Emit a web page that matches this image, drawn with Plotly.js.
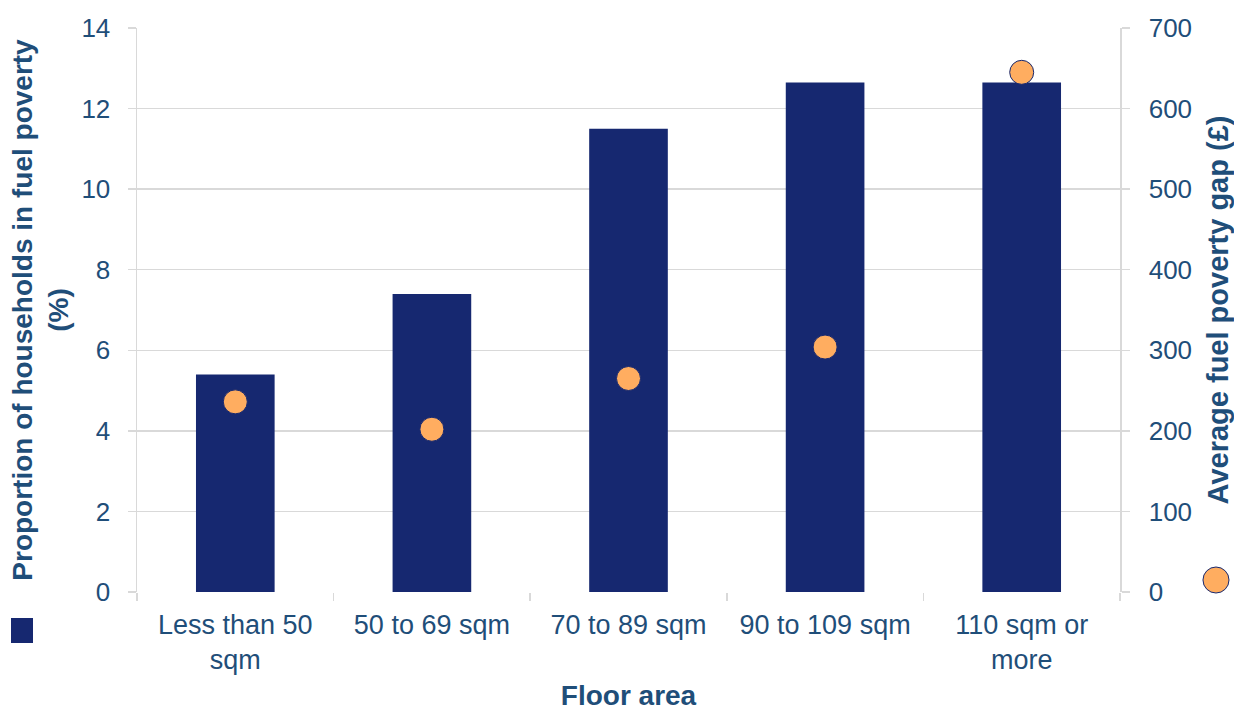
<!DOCTYPE html>
<html>
<head>
<meta charset="utf-8">
<script src="https://cdn.plot.ly/plotly-3.0.1.min.js"></script>
<style>html,body{margin:0;padding:0;background:#fff;}#chart{width:1234px;height:711px;}</style>
</head>
<body>
<div id="chart"></div>
<script>
const categories = ["Less than 50<br>sqm", "50 to 69 sqm", "70 to 89 sqm", "90 to 109 sqm", "110 sqm or<br>more"];
const proportionPct = [5.4, 7.4, 11.5, 12.65, 12.65];
const avgGapGBP = [236, 202, 265, 304, 645];

const txt = "#1F4E79";
const grid = "#D9D9D9";
const navy = "#162870";
const orange = "#FFAD60";

const traces = [
  {
    type: "bar", x: categories, y: proportionPct, name: "Proportion of households in fuel poverty (%)",
    marker: {color: navy}, width: 0.4, showlegend: false
  },
  {
    type: "scatter", mode: "markers", x: categories, y: avgGapGBP, yaxis: "y2",
    name: "Average fuel poverty gap (£)",
    marker: {color: orange, size: 24, line: {color: navy, width: 1}}, showlegend: false
  }
];

const layout = {
  width: 1234, height: 711,
  margin: {l: 137, r: 114, t: 28, b: 119},
  paper_bgcolor: "#fff", plot_bgcolor: "#fff",
  font: {family: "Liberation Sans, Arial, sans-serif", size: 26, color: txt},
  showlegend: false,
  xaxis: {
    type: "category", tickson: "boundaries", ticks: "outside", ticklen: 8, tickcolor: grid, tickwidth: 1.5,
    showgrid: false, showline: false, zeroline: false,
    tickfont: {size: 27, color: txt}, ticklabelstandoff: 14,
    title: {text: "<b>Floor area</b>", font: {size: 28, color: txt}, standoff: 13},
    automargin: false
  },
  yaxis: {
    range: [0, 14], dtick: 2, showgrid: true, gridcolor: grid, gridwidth: 1.5,
    showline: true, linecolor: grid, linewidth: 1.5, ticks: "outside", ticklen: 8, tickcolor: grid, tickwidth: 1.5,
    zeroline: false, tickfont: {size: 26, color: txt}, ticklabelstandoff: 12,
    title: {text: "<b>Proportion of households in fuel poverty<br>(%)</b>", font: {size: 28, color: txt}, standoff: 4},
    automargin: false
  },
  yaxis2: {
    range: [0, 700], dtick: 100, overlaying: "y", side: "right", showgrid: false,
    showline: true, linecolor: grid, linewidth: 1.5, ticks: "outside", ticklen: 8, tickcolor: grid, tickwidth: 1.5,
    zeroline: false, tickfont: {size: 26, color: txt}, ticklabelstandoff: 14,
    title: {text: "<b>Average fuel poverty gap (£)</b>", font: {size: 29, color: txt}, standoff: 17},
    automargin: false
  },
  shapes: [
    {type: "rect", xref: "paper", yref: "paper", x0: -0.1282, x1: -0.1058, y0: -0.0904, y1: -0.0461,
     fillcolor: navy, line: {width: 0}},
    {type: "circle", xref: "paper", yref: "paper", x0: 1.0844, x1: 1.1109, y0: -0.0018, y1: 0.0443,
     fillcolor: orange, line: {color: navy, width: 1}}
  ]
};

Plotly.newPlot("chart", traces, layout, {displayModeBar: false, staticPlot: true});
</script>
</body>
</html>
